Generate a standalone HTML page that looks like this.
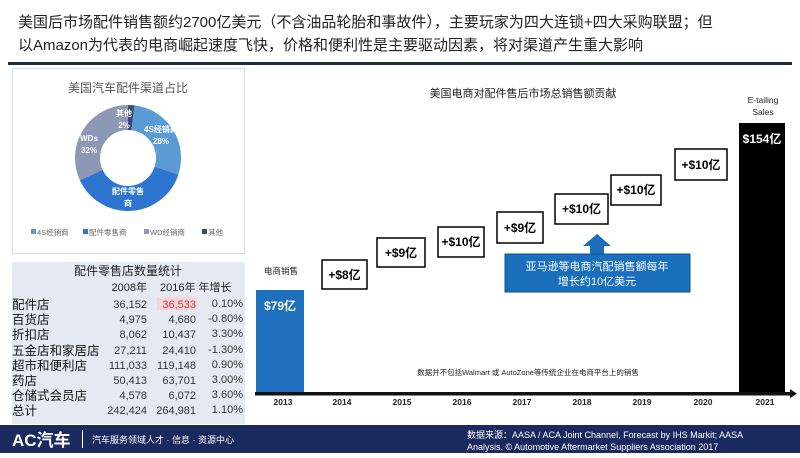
<!DOCTYPE html>
<html><head><meta charset="utf-8"><style>
body{margin:0;width:800px;height:453px;overflow:hidden;background:#fff;font-family:"Liberation Sans","Noto Sans CJK SC",sans-serif}
</style></head><body>
<svg width="800" height="453" viewBox="0 0 800 453" xmlns="http://www.w3.org/2000/svg" font-family="Liberation Sans, Noto Sans CJK SC, sans-serif">
<text x="18" y="27" font-size="15" fill="#222">美国后市场配件销售额约2700亿美元（不含油品轮胎和事故件），主要玩家为四大连锁+四大采购联盟；但</text>
<text x="18" y="50" font-size="15" fill="#222">以Amazon为代表的电商崛起速度飞快，价格和便利性是主要驱动因素，将对渠道产生重大影响</text>
<rect x="8" y="62" width="784" height="3" fill="#1f2d3d"/>
<!-- donut panel -->
<rect x="12.5" y="68.5" width="232" height="185" fill="#fff" stroke="#d8dde6"/>
<text x="128" y="92" font-size="12" fill="#555" text-anchor="middle">美国汽车配件渠道占比</text>
<g transform="rotate(-90 128 158)" fill="none" stroke-width="25">
<circle cx="128" cy="158" r="40.5" stroke="#3c4a7a" stroke-dasharray="5.09 300"/>
<circle cx="128" cy="158" r="40.5" stroke="#5b9bd5" stroke-dasharray="0 5.09 71.25 300"/>
<circle cx="128" cy="158" r="40.5" stroke="#2e75d0" stroke-dasharray="0 76.34 96.7 300"/>
<circle cx="128" cy="158" r="40.5" stroke="#8c98b4" stroke-dasharray="0 173.04 81.43 300"/>
</g>
<g font-size="8" fill="#fff" font-weight="bold" text-anchor="middle">
<text x="124" y="116">其他</text><text x="124" y="128">2%</text>
<text x="161" y="132">4S经销商</text><text x="161" y="144">28%</text>
<text x="89" y="141">WDs</text><text x="89" y="153">32%</text>
<text x="128" y="194">配件零售</text><text x="128" y="206">商</text><text x="128" y="218">38%</text>
</g>
<g font-size="7.5" fill="#666">
<rect x="31" y="229" width="5" height="5" fill="#5b9bd5"/><text x="37" y="235">4S经销商</text>
<rect x="83" y="229" width="5" height="5" fill="#2e75d0"/><text x="89" y="235">配件零售商</text>
<rect x="144" y="229" width="5" height="5" fill="#8c98b4"/><text x="150" y="235">WD经销商</text>
<rect x="202" y="229" width="5" height="5" fill="#3c4a7a"/><text x="208" y="235">其他</text>
</g>
<!-- table -->
<rect x="12" y="262" width="233" height="162" fill="#e4e9f2"/>
<text x="128" y="275" font-size="12" fill="#222" text-anchor="middle">配件零售店数量统计</text>
<g font-size="11" fill="#222">
<text x="147" y="291" text-anchor="end">2008年</text>
<text x="160" y="291">2016年 年增长</text>
</g>
<rect x="157" y="297" width="40" height="13" fill="#f6d6d8"/>
<g font-size="12.5" fill="#111">
<text x="12" y="309">配件店</text><text x="12" y="324">百货店</text><text x="12" y="339">折扣店</text><text x="12" y="355">五金店和家居店</text><text x="12" y="370">超市和便利店</text><text x="12" y="385">药店</text><text x="12" y="400">仓储式会员店</text><text x="12" y="415">总计</text>
</g>
<g font-size="11" fill="#333" text-anchor="end">
<text x="147" y="308">36,152</text><text x="196" y="308" fill="#d04040">36,533</text><text x="243" y="307">0.10%</text>
<text x="147" y="323">4,975</text><text x="196" y="323">4,680</text><text x="243" y="322">-0.80%</text>
<text x="147" y="338">8,062</text><text x="196" y="338">10,437</text><text x="243" y="337">3.30%</text>
<text x="147" y="354">27,211</text><text x="196" y="354">24,410</text><text x="243" y="353">-1.30%</text>
<text x="147" y="369">111,033</text><text x="196" y="369">119,148</text><text x="243" y="368">0.90%</text>
<text x="147" y="384">50,413</text><text x="196" y="384">63,701</text><text x="243" y="383">3.00%</text>
<text x="147" y="399">4,578</text><text x="196" y="399">6,072</text><text x="243" y="398">3.60%</text>
<text x="147" y="414">242,424</text><text x="196" y="414">264,981</text><text x="243" y="413">1.10%</text>
</g>
<!-- chart -->
<text x="523" y="97" font-size="11" fill="#222" text-anchor="middle">美国电商对配件售后市场总销售额贡献</text>
<text x="763" y="103" font-size="8.5" fill="#222" text-anchor="middle">E-tailing</text>
<text x="763" y="115" font-size="8.5" fill="#222" text-anchor="middle">Sales</text>
<rect x="739" y="123" width="46" height="270" fill="#000"/>
<text x="762" y="143" font-size="12" font-weight="bold" fill="#fff" text-anchor="middle">$154亿</text>
<rect x="256" y="290" width="48" height="103" fill="#1f6fbf"/>
<text x="280" y="310" font-size="12" font-weight="bold" fill="#fff" text-anchor="middle">$79亿</text>
<text x="281" y="274" font-size="8.5" fill="#222" text-anchor="middle">电商销售</text>
<g fill="#fff" stroke="#000" stroke-width="1.5">
<rect x="322" y="260" width="45" height="29"/>
<rect x="377" y="238" width="48" height="29"/>
<rect x="438" y="227" width="46" height="30"/>
<rect x="497" y="212" width="46" height="31"/>
<rect x="555" y="194" width="53" height="30"/>
<rect x="611" y="175" width="50" height="30"/>
<rect x="675" y="149" width="52" height="31"/>
</g>
<g font-size="12" font-weight="bold" fill="#000" text-anchor="middle">
<text x="344.5" y="279">+$8亿</text>
<text x="401" y="257">+$9亿</text>
<text x="461" y="246">+$10亿</text>
<text x="520" y="232">+$9亿</text>
<text x="581.5" y="213">+$10亿</text>
<text x="636" y="194">+$10亿</text>
<text x="701" y="169">+$10亿</text>
</g>
<polygon points="597,234 611,246 604,246 604,254 590,254 590,246 583,246" fill="#1a6fbd"/>
<rect x="505" y="254" width="185" height="38" fill="#1a6fbd" stroke="#0d4f8f"/>
<text x="597" y="270" font-size="11" fill="#fff" text-anchor="middle">亚马逊等电商汽配销售额每年</text>
<text x="597" y="285" font-size="11" fill="#fff" text-anchor="middle">增长约10亿美元</text>
<text x="528" y="375" font-size="7.5" fill="#222" text-anchor="middle">数据并不包括Walmart 或 AutoZone等传统企业在电商平台上的销售</text>
<rect x="255" y="392" width="536" height="3.5" fill="#111"/>
<polygon points="790,389 797,393.7 790,398" fill="#111"/>
<g font-size="8.5" font-weight="bold" fill="#222" text-anchor="middle">
<text x="283" y="405">2013</text><text x="342" y="405">2014</text><text x="402" y="405">2015</text><text x="462" y="405">2016</text><text x="522" y="405">2017</text><text x="582" y="405">2018</text><text x="642" y="405">2019</text><text x="703" y="405">2020</text><text x="765" y="405">2021</text>
</g>
<!-- footer -->
<rect x="0" y="425" width="800" height="28" fill="#1b2a5e"/>
<text x="12" y="446" font-size="17" font-weight="bold" fill="#fff">AC汽车</text>
<rect x="82" y="430" width="1" height="18" fill="#fff"/>
<text x="92" y="443" font-size="9" fill="#fff">汽车服务领域人才 · 信息 · 资源中心</text>
<text x="467" y="438" font-size="9" fill="#fff">数据来源：AASA / ACA Joint Channel, Forecast by IHS Markit; AASA</text>
<text x="467" y="450" font-size="9" fill="#fff">Analysis. © Automotive Aftermarket Suppliers Association 2017</text>
</svg>
</body></html>
